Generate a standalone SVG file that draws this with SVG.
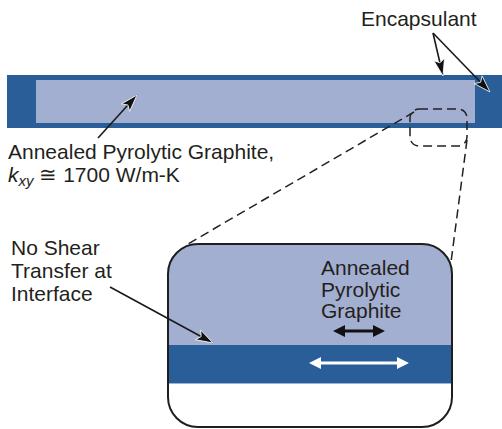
<svg xmlns="http://www.w3.org/2000/svg" width="502" height="429" viewBox="0 0 502 429">
  <style>
    .lbl { font-family: "Liberation Sans", Arial, sans-serif; font-size: 21px; fill: #231f20; }
    .dark { fill: #2a5e99; }
    .light { fill: #a3afd1; }
    .lead { stroke: #1a1a1a; stroke-width: 1.6; fill: none; }
    .dash { stroke: #222; stroke-width: 1.5; fill: none; stroke-dasharray: 9 5; }
  </style>
  <defs>
    <marker id="head" markerUnits="userSpaceOnUse" markerWidth="20" markerHeight="14" refX="17" refY="5.5" orient="auto" overflow="visible">
      <path d="M0,0 L17,5.5 L0,11 L3.5,5.5 Z" fill="#111" stroke="#fff" stroke-width="0.8"/>
    </marker>
  </defs>

  <rect width="502" height="429" fill="#fff"/>

  <!-- laminate strip: encapsulant around the graphite core -->
  <g id="strip">
    <rect class="dark" x="7" y="75" width="495" height="53"/>
    <rect class="light" x="36" y="80" width="439" height="43"/>
  </g>

  <!-- enlarged detail of the interface -->
  <g id="detail">
    <clipPath id="detailClip">
      <rect x="168" y="244" width="284" height="183" rx="30" ry="30"/>
    </clipPath>
    <g clip-path="url(#detailClip)">
      <rect x="168" y="244" width="284" height="183" fill="#fff"/>
      <rect class="light" x="168" y="244" width="284" height="101"/>
      <rect class="dark" x="168" y="345" width="284" height="38"/>
      <rect x="168" y="383" width="284" height="1" fill="#9fb3d6"/>
    </g>
    <rect x="168" y="244" width="284" height="183" rx="30" ry="30" fill="none" stroke="#1e1e1e" stroke-width="2"/>
    <text class="lbl" x="321" y="275">Annealed</text>
    <text class="lbl" x="321" y="297">Pyrolytic</text>
    <text class="lbl" x="321" y="318">Graphite</text>
    <!-- in-plane motion arrows -->
    <polygon points="333,331 345,325 345,329.5 373,329.5 373,325 385,331 373,337 373,332.5 345,332.5 345,337" fill="#111"/>
    <polygon points="309,363 321,357 321,361.5 397,361.5 397,357 409,363 397,369 397,364.5 321,364.5 321,369" fill="#fff"/>
  </g>

  <!-- labels -->
  <g id="label-encapsulant">
    <text class="lbl" x="361" y="26">Encapsulant</text>
  </g>
  <g id="label-graphite">
    <text class="lbl" x="8" y="159">Annealed Pyrolytic Graphite,</text>
    <text class="lbl" x="8" y="182"><tspan font-style="italic">k</tspan><tspan font-style="italic" font-size="15" dy="4">xy</tspan><tspan dy="-4"> ≅ 1700 W/m-K</tspan></text>
  </g>
  <g id="label-shear">
    <text class="lbl" x="11" y="255">No Shear</text>
    <text class="lbl" x="11" y="278">Transfer at</text>
    <text class="lbl" x="11" y="301">Interface</text>
  </g>

  <!-- connectors -->
  <g id="connectors">
    <rect class="dash" x="410" y="109" width="57" height="37" rx="9" ry="9"/>
    <line class="dash" x1="414" y1="112" x2="188" y2="244"/>
    <line class="dash" x1="467" y1="140" x2="451" y2="262"/>
    <line class="lead" x1="98" y1="138" x2="137" y2="95" marker-end="url(#head)"/>
    <line class="lead" x1="433" y1="33" x2="443" y2="76" marker-end="url(#head)"/>
    <line class="lead" x1="433" y1="33" x2="490" y2="92" marker-end="url(#head)"/>
    <line class="lead" x1="110" y1="287" x2="213" y2="343" marker-end="url(#head)"/>
  </g>
</svg>
